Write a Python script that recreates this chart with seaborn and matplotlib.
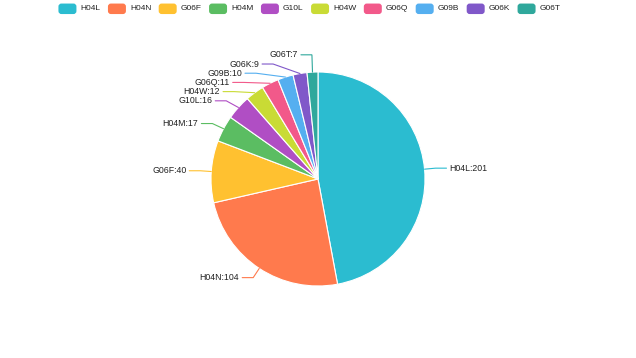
import numpy as np
import matplotlib
matplotlib.use("Agg")
import matplotlib.pyplot as plt
import seaborn as sns
from matplotlib.patches import FancyBboxPatch

names = ["H04L", "H04N", "G06F", "H04M", "G10L", "H04W", "G06Q", "G09B", "G06K", "G06T"]
counts = [201, 104, 40, 17, 16, 12, 11, 10, 9, 7]
colors = ["#2bbcd0", "#ff7a4d", "#ffc130", "#5bbd62", "#b04ec4",
          "#c9db35", "#f2598a", "#55aff0", "#8058c9", "#2fa89c"]

sns.set_theme(style="white")
plt.rcParams['font.family'] = ['Liberation Sans', 'DejaVu Sans']
palette = sns.color_palette(colors)

W, H = 636, 358
fig = plt.figure(figsize=(W / 100, H / 100), dpi=100)
ax = fig.add_axes([0, 0, 1, 1])

# pie in pixel coords, y axis flipped so the slices run clockwise from the top
cx, cy, r = 318, 179, 107
wedges, _ = ax.pie(counts, colors=palette, startangle=-90, counterclock=True,
                   center=(cx, cy), radius=r,
                   wedgeprops=dict(edgecolor="white", linewidth=0.8))
ax.set_xlim(0, W)
ax.set_ylim(H, 0)
ax.axis("off")

# label layout, roughly like echarts does it
len1, len2, gap = 11, 11, 9.2
labels = []
for w, name, n, c in zip(wedges, names, counts, palette):
    a = np.deg2rad((w.theta1 + w.theta2) / 2)
    ux, uy = np.cos(a), np.sin(a)
    side = 1 if ux >= 0 else -1
    labels.append(dict(text="{0}:{1}".format(name, n), color=c, side=side,
                       ex=cx + r * ux, ey=cy + r * uy,
                       x=cx + (r + len1) * ux + side * len2,
                       y=cy + (r + len1) * uy, moved=False))

for side in (1, -1):
    group = sorted([l for l in labels if l["side"] == side], key=lambda l: l["y"])
    if len(group) < 2:
        continue
    last, total = -1e9, 0
    for l in group:
        s = max(last + gap - l["y"], 0)
        if s > 0:
            l["y"] += s
            l["moved"] = True
            total += s
        last = l["y"]
    pushed = [i for i, l in enumerate(group) if l["moved"]]
    if not pushed:
        continue
    for l in group[max(pushed[0] - 1, 0):pushed[-1] + 1]:
        l["y"] -= total / len(group)
    # put x back on an ellipse through the farthest label
    rA = r + len1
    for semi in ([l for l in group if l["y"] < cy], [l for l in group if l["y"] >= cy]):
        if not semi:
            continue
        far = max(semi, key=lambda l: abs(l["y"] - cy))
        dxo = far["x"] - cx - side * len2
        dyo = abs(far["y"] - cy)
        rB = np.sqrt(dyo ** 2 / (1 - dxo ** 2 / rA ** 2)) if abs(dxo) < rA else rA
        for l in semi:
            dy = abs(l["y"] - cy)
            dx = np.sqrt(max(1 - dy ** 2 / rB ** 2, 0)) * rA
            l["x"] = cx + side * (dx + len2)

for l in labels:
    s = l["side"]
    ax.plot([l["ex"], l["x"] - s * len2, l["x"]], [l["ey"], l["y"], l["y"]],
            color=l["color"], lw=0.8, solid_joinstyle="miter")
    ax.text(l["x"] + s * 3, l["y"], l["text"], ha="left" if s > 0 else "right",
            va="center", fontsize=6.3, color="#222222")

# legend along the top
fs = 6.0
iw, ih, tgap, igap, ly = 18, 10.5, 4, 7.5, 8.8
renderer = fig.canvas.get_renderer()
widths = []
for name in names:
    t = ax.text(0, 0, name, fontsize=fs)
    widths.append(t.get_window_extent(renderer).width)
    t.remove()
total_w = sum(iw + tgap + w for w in widths) + igap * (len(names) - 1)
x0 = 309.5 - total_w / 2
for name, c, wd in zip(names, palette, widths):
    ax.add_patch(FancyBboxPatch((x0, ly - ih / 2), iw, ih,
                                boxstyle="round,pad=0,rounding_size=3",
                                fc=c, ec="none"))
    ax.text(x0 + iw + tgap, ly, name, ha="left", va="center",
            fontsize=fs, color="#222222")
    x0 += iw + tgap + wd + igap

fig.savefig("out.png", dpi=100)
